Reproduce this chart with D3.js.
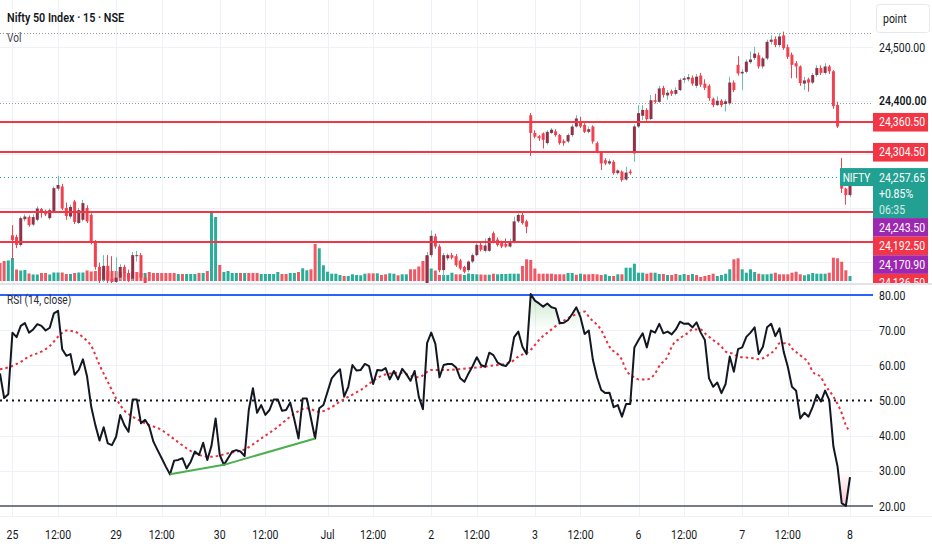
<!DOCTYPE html>
<html>
<head>
<meta charset="utf-8">
<script src="https://cdn.jsdelivr.net/npm/d3@7"></script>
<style>
  html, body { margin: 0; padding: 0; background: #fff; }
  #viz-container { width: 932px; height: 550px; overflow: hidden; }
</style>
</head>
<body>
<div id="viz-container"></div>
<script>
// ---------- data ----------
// time axis: bar index of each label
const timeTickIdx  = [3, 14, 28, 39, 53, 64, 79, 90, 104, 115, 129, 140, 154, 165, 179, 190, 205];
const timeTickText = ["25", "12:00", "29", "12:00", "30", "12:00", "Jul", "12:00", "2", "12:00", "3", "12:00", "6", "12:00", "7", "12:00", "8"];

// candles only where they are visible in the price window (bars 3-35 and 103-205)
const candleRuns = [[3, 35], [103, 205]];
const opens = [
  24149,24146,24131,24179,24183,24169,24178,24198,24192,24181,24193,24236,24240,24200,24184,24212,24172,24178,24200,24187,24137,24090,24066,24092,24068,24062,24070,24090,24078,24068,24110,24112,24070,
  24045,24112,24147,24128,24084,24106,24112,24110,24102,24090,24084,24100,24112,24131,24120,24120,24153,24141,24136,24133,24128,24137,24175,24187,24175,
  24373,24340,24334,24339,24321,24340,24343,24336,24325,24324,24336,24352,24361,24355,24342,24352,24321,24303,24289,24283,24286,24265,24268,24253,24268,
  24302,24352,24372,24383,24366,24401,24398,24424,24410,24418,24413,24420,24439,24440,24443,24428,24447,24432,24428,24404,24392,24400,24394,24395,24434,
  24467,24451,24454,24472,24480,24485,24464,24479,24510,24515,24504,24522,24500,24486,24470,24464,24432,24440,24434,24448,24461,24452,24464,24455,24392,
  24268,24236,24224
];
const highs = [
  24168,24150,24184,24188,24186,24188,24203,24200,24197,24199,24240,24260,24245,24210,24206,24215,24200,24215,24205,24190,24140,24098,24112,24112,24110,24108,24095,24094,24085,24118,24120,24116,24075,
  24118,24158,24152,24132,24116,24115,24116,24114,24105,24092,24102,24115,24134,24135,24143,24147,24156,24145,24139,24143,24143,24184,24190,24192,24178,
  24377,24345,24336,24341,24345,24349,24347,24338,24328,24339,24356,24373,24370,24358,24352,24354,24324,24305,24293,24291,24289,24272,24270,24277,24272,
  24356,24392,24392,24386,24411,24413,24428,24428,24420,24421,24425,24442,24446,24450,24447,24450,24452,24440,24431,24406,24408,24403,24403,24445,24438,
  24483,24459,24477,24492,24501,24490,24482,24514,24522,24520,24526,24529,24505,24490,24474,24466,24445,24443,24452,24466,24466,24470,24467,24457,24398,
  24293,24238,24262
];
const lows = [
  24103,24125,24128,24175,24165,24166,24175,24182,24185,24178,24190,24232,24196,24178,24180,24170,24170,24175,24172,24132,24085,24060,24062,24060,24058,24055,24066,24072,24062,24064,24100,24066,24050,
  24040,24108,24124,24080,24072,24102,24104,24090,24084,24078,24080,24097,24110,24119,24117,24118,24134,24128,24125,24126,24126,24134,24172,24169,24153,
  24297,24330,24325,24311,24318,24338,24333,24318,24316,24321,24333,24350,24349,24340,24339,24320,24302,24271,24280,24280,24262,24262,24249,24251,24262,
  24286,24349,24364,24363,24364,24395,24396,24406,24402,24409,24410,24418,24433,24436,24428,24424,24426,24420,24400,24388,24390,24388,24380,24392,24416,
  24447,24420,24451,24469,24476,24460,24460,24476,24505,24500,24500,24495,24478,24442,24442,24428,24420,24417,24431,24445,24448,24449,24450,24385,24349,
  24228,24206,24220
];
const closes = [
  24140,24131,24181,24184,24168,24183,24199,24191,24188,24196,24237,24243,24199,24185,24202,24174,24196,24209,24175,24137,24090,24066,24092,24065,24062,24070,24090,24078,24068,24112,24112,24070,24058,
  24112,24148,24128,24084,24112,24112,24107,24093,24087,24081,24100,24112,24131,24122,24130,24144,24137,24131,24128,24128,24136,24175,24187,24172,24165,
  24340,24333,24330,24327,24342,24346,24336,24321,24321,24336,24352,24367,24352,24342,24347,24324,24305,24283,24283,24287,24265,24270,24252,24266,24265,
  24352,24377,24383,24366,24401,24398,24423,24411,24415,24413,24420,24439,24442,24444,24432,24445,24430,24424,24405,24392,24400,24392,24399,24434,24420,
  24451,24454,24473,24477,24488,24464,24479,24510,24514,24504,24520,24498,24482,24467,24464,24433,24438,24434,24448,24461,24452,24464,24455,24390,24352,
  24236,24224,24257.65
];

// volume per bar (relative units) and its colour (u = up, d = down)
const volume = [
  18,20,20.5,23,11.5,10.5,11,7.5,6.5,6.5, 8,8,6.5,8.5,8.5,8.5,7,7,8,8.5,
  8.5,10.5,9.5,10,9,12,10,10,10,9, 9,8,9,9,8,8,9,8,8,8,
  8,8,8,7,7,7,7,7,8,8, 10,68,64,16,9,10,8,8,8,8,
  8,8,8,7,7,7,7,9,7,7, 8,8,9,12.7,10.7,11.7,37,32.7,15.7,9.3,
  7.3,7.3,6,5,5,6.7,6,5.7,7.3,7.7, 7.7,7.7,6,6.7,7.7,7.3,5.7,6.7,6.7,11.7,
  11.7,14.5,20,25,12.5,10.5,6,6,6,8.3, 6.7,6.7,6,7.5,7,6.7,6.5,6.3,6.3,7.3,
  6.7,7,7,7.3,7.3,7.3,15,21.7,21,12.5, 7.3,7.3,7.3,7.3,6.7,6.7,6.7,8,8,6.3,
  7.3,6.7,6.7,7,6.7,6,6.7,5,5,6.7, 6.7,13.3,13.3,17.3,8.3,8.3,7.3,8.3,8.3,7,
  7,6,6,7,6,7,6,7,6,4, 5,6,7.3,5,6,7.3,11.7,21.7,22.7,11.7,
  8.3,11.7,9,7.3,6.7,6.7,7.3,8.3,6.7,6.7, 6.7,8.3,9.3,6.7,5.7,6.7,8,7.3,7.3,7.3,
  8.3,23.3,22.7,19.3,10.7,5
];
const volumeDir = ("dduuduuduu dduuuddudu uddddudddd dddddudddd ddduduuudu duuduuuudu ddduuuuudd " +
  "uuduudduuu uuuduuuuud dudduuduud ddddudduuu dduuuuddud uuuuuudddd ddddddduud uddddduudu " +
  "duuuuudduu dudduududd ddduuuuddu uuuduuuddd dddduuuuuu dddddu").replace(/ /g, "").split("");

// RSI (14, close), one value per bar
const rsiValues = [
  57.7,50.7,51.8,69.3,68,71.2,72,69.3,70.2,71.7, 71.2,69.9,70.7,74.8,75.5,64.6,62.7,63.2,57.3,58.7,
  61.7,56.8,48.2,43,38.6,42.4,37.8,37.3,39.7,45.9, 43,41.1,50.3,50.3,43.5,44.5,42.6,38.3,35.9,33.6,
  31.2,29,32.9,33.1,33.6,30.7,32.6,35.5,34.5,38, 33.1,37.1,44.9,34.5,31.7,33.6,35.5,35.9,35.5,34.2,
  47.3,53.5,46.5,48.7,45.9,47.3,50.3,50.3,47.1,47.3, 49.4,44.5,39.2,50.6,50.6,44.9,39.2,47.8,48.7,52.5,
  56.3,57.7,58.9,51.1,53.9,60.1,58.5,58.7,60.4,59.8, 54.7,58.7,58.5,59.2,56,58.4,56,59,57.5,55.6,
  58.4,51.1,47.5,66.3,69.3,66.1,56.6,60.1,60.4,60.4, 59.4,56.3,55.3,57.7,59.8,62.3,60.1,59.6,63.6,62.9,
  60.8,60.1,59.8,61.3,68,69.6,65.3,63.2,80.3,78.4, 77.6,76.7,77.6,76.5,76.2,72,72.1,72.9,74.6,76.5,
  73.7,68.9,69.9,61.5,56.6,53,52.1,52.2,48.1,48.7, 45.4,49,49,65.1,67.2,69.1,65.1,69.9,69.3,71.8,
  69.1,69.6,68.8,70.2,72.4,71.8,71.9,70.8,72.2,69.3, 67.2,56.3,53.9,55.1,52.1,54.7,62.5,58.2,64.6,65.1,
  68.1,69.3,70.8,63.2,65.3,70.8,71.8,68.3,70.5,63.9, 59.6,53.9,52.8,44.9,46.5,45.4,48.2,51.6,49.7,52.8,
  50.1,36.9,31.2,20.8,20,28.2
];

// RSI moving average, read at these bars
const rsiMaIdx = [0,2,5,7,10,12,14,16,18,20, 22,24,26,28,30,32,35,39,42,45, 48,51,55,59,63,67,70,74,77,80,
  82,87,92,96,101,104,108,113,118,123, 125,128,130,133,135,137,140,141,142,145, 147,150,151,153,154,156,158,159,161,162,
  164,166,167,169,170,172,174,175,177,178, 180,182,183,185,187,188,190,191,193,195, 196,198,199,201,203,204,205];
const rsiMaVal = [58.9,59.4,61,62.5,63.9,65.5,68.1,69.9,69.6,68, 65.5,60.1,55.3,50.6,47.1,45.4,43.5,41.6,39,36.4,
  34.5,34,35,36.1,39.2,42.5,45.4,47.8,46.8,48.1, 49.7,53,57,57.9,56.6,58.7,58.7,59.2,59.8,60.8,
  62.5,64.4,67.2,70.2,72,73.4,75,75.3,73.8,70, 65.3,61.5,58.7,56.6,56,56,57.7,59.8,62.5,65.3,
  67.7,69.3,70.2,70.2,69.1,67.2,65.3,63.9,63.2,62.5, 62.2,62,61.7,62.7,64.6,66.3,66.3,64.8,62.9,60.6,
  58.2,56.6,54.4,51.1,46.4,43,41.1];

// bullish divergence drawn on the RSI lows
const divergenceIdx = [41, 54, 76];

// horizontal drawings and price scale markers
const levelValues = [24360.5, 24304.5, 24192.5, 24136.5];
const refDotted = [24527, 24396];
const lastPrice = 24257.65;
const lastChange = "+0.85%";
const countdown = "06:35";
const tagValues = [24360.5, 24304.5, 24257.65, 24243.5, 24192.5, 24170.9, 24136.5];
const tagKind = ["level", "level", "last", "purple", "level", "purple", "level"];
const priceTicks = [24100, 24200, 24300, 24400, 24500];
const rsiTicks = [20, 30, 40, 50, 60, 70, 80];

// ---------- layout ----------
let w = 932, h = 550;
let plotRight = 873;
let mainBottom = 283;
let rsiTop = 285, rsiBottom = 516;

let viz = d3.select("#viz-container").append("svg")
  .attr("width", w).attr("height", h)
  .style("font-family", "Roboto, 'Open Sans', sans-serif");

let defs = viz.append("defs");
defs.append("clipPath").attr("id", "clipMain").append("rect")
  .attr("x", 0).attr("y", 0).attr("width", plotRight).attr("height", mainBottom);
defs.append("clipPath").attr("id", "clipRsi").append("rect")
  .attr("x", 0).attr("y", rsiTop).attr("width", plotRight).attr("height", rsiBottom - rsiTop);
defs.append("clipPath").attr("id", "clipAxis").append("rect")
  .attr("x", plotRight).attr("y", 0).attr("width", w - plotRight).attr("height", mainBottom);

let xScale = d3.scaleLinear().domain([0, rsiValues.length - 1]).range([0, 850]);
let yPrice = d3.scaleLinear().domain([24060, 24588]).range([mainBottom, 0]);
let yVol = d3.scaleLinear().domain([0, d3.max(volume)]).range([281, 213]);
let yRsi = d3.scaleLinear().domain([20, 80]).range([506, 295]);

function crisp(v) { return Math.round(v) + 0.5; }

// condensed-looking text like the screenshot
function txt(g, x, y, s, opt) {
  opt = opt || {};
  return g.append("text")
    .attr("transform", "translate(" + x + "," + y + ") scale(" + (opt.sx || 0.84) + ",1)")
    .attr("text-anchor", opt.anchor || "start")
    .attr("font-size", opt.size || 12)
    .attr("font-weight", opt.weight || 400)
    .attr("fill", opt.fill || "#131722")
    .attr("opacity", opt.opacity || 1)
    .text(s);
}

// ---------- grid ----------
let grid = viz.append("g").attr("stroke", "#eef1f6").attr("stroke-width", 1);
timeTickIdx.forEach(function (i) {
  let gx = crisp(xScale(i));
  grid.append("line").attr("x1", gx).attr("x2", gx).attr("y1", 0).attr("y2", mainBottom);
  grid.append("line").attr("x1", gx).attr("x2", gx).attr("y1", rsiTop).attr("y2", rsiBottom);
});
priceTicks.forEach(function (v) {
  grid.append("line").attr("x1", 0).attr("x2", plotRight)
    .attr("y1", crisp(yPrice(v))).attr("y2", crisp(yPrice(v)));
});
[30, 40, 60, 70].forEach(function (v) {
  grid.append("line").attr("x1", 0).attr("x2", plotRight)
    .attr("y1", crisp(yRsi(v))).attr("y2", crisp(yRsi(v)));
});

// ---------- main pane ----------
let main = viz.append("g").attr("clip-path", "url(#clipMain)");

refDotted.forEach(function (v) {
  main.append("line").attr("x1", 0).attr("x2", plotRight)
    .attr("y1", crisp(yPrice(v))).attr("y2", crisp(yPrice(v)))
    .attr("stroke", "#9598a1").attr("stroke-width", 1).attr("stroke-dasharray", "1,2");
});

main.selectAll(".vol").data(volume).enter().append("rect")
  .attr("class", "vol")
  .attr("x", (d, i) => xScale(i) - 1.5)
  .attr("width", 3)
  .attr("y", d => yVol(d))
  .attr("height", d => yVol(0) - yVol(d))
  .attr("fill", (d, i) => volumeDir[i] === "u" ? "#2aad99" : "#f05864");

let candleIdx = candleRuns.flatMap(r => d3.range(r[0], r[1] + 1));
let candles = candleIdx.map((idx, k) => ({ i: idx, o: opens[k], h: highs[k], l: lows[k], c: closes[k] }));
let upBody = "#8f3249", upWick = "#6cc2ae", dnColor = "#f0424f";

let cg = main.selectAll(".candle").data(candles).enter().append("g").attr("class", "candle");
cg.append("line")
  .attr("x1", d => crisp(xScale(d.i) - 0.5)).attr("x2", d => crisp(xScale(d.i) - 0.5))
  .attr("y1", d => yPrice(d.h)).attr("y2", d => yPrice(d.l))
  .attr("stroke", d => d.c >= d.o ? upWick : dnColor).attr("stroke-width", 1);
cg.append("rect")
  .attr("x", d => xScale(d.i) - 1.5).attr("width", 3)
  .attr("y", d => yPrice(Math.max(d.o, d.c)))
  .attr("height", d => Math.max(1, Math.abs(yPrice(d.o) - yPrice(d.c))))
  .attr("fill", d => d.c >= d.o ? upBody : dnColor);

levelValues.forEach(function (v) {
  main.append("line").attr("x1", 0).attr("x2", plotRight)
    .attr("y1", yPrice(v)).attr("y2", yPrice(v))
    .attr("stroke", "#f23645").attr("stroke-width", 2);
});

main.append("line").attr("x1", 0).attr("x2", plotRight - 33)
  .attr("y1", crisp(yPrice(lastPrice))).attr("y2", crisp(yPrice(lastPrice)))
  .attr("stroke", "#22a193").attr("stroke-width", 1).attr("stroke-dasharray", "1,3");

// symbol tag at the last price
main.append("rect").attr("x", plotRight - 33).attr("y", yPrice(lastPrice) - 9)
  .attr("width", 33).attr("height", 18).attr("fill", "#22a193");
txt(main, plotRight - 16.5, yPrice(lastPrice) + 4.5, "NIFTY", { anchor: "middle", size: 12, fill: "#fff" });

// ---------- price scale ----------
let axisG = viz.append("g").attr("clip-path", "url(#clipAxis)");
let tags = tagValues.map((v, k) => ({ v: v, kind: tagKind[k] })).sort((a, b) => b.v - a.v);
let prevBottom = -Infinity;
tags.forEach(function (t) {
  t.h = t.kind === "last" ? 50 : 18.6;
  t.top = Math.max(yPrice(t.v) - 9, prevBottom);
  prevBottom = t.top + t.h;
});

priceTicks.filter(v => !tags.some(t => yPrice(v) > t.top - 6 && yPrice(v) < t.top + t.h + 6))
  .forEach(function (v) {
    txt(axisG, 879, yPrice(v) + 4.5, d3.format(",.2f")(v), { size: 12.5, weight: v === 24400 ? 600 : 400 });
  });

let tagColor = { level: "#f23645", purple: "#9c27b0", last: "#22a193" };
tags.forEach(function (t) {
  axisG.append("rect").attr("x", plotRight).attr("y", t.top).attr("width", 55).attr("height", t.h)
    .attr("fill", tagColor[t.kind]);
  txt(axisG, 879, t.top + 13.5, d3.format(",.2f")(t.v), { size: 12.5, fill: "#fff" });
  if (t.kind === "last") {
    txt(axisG, 879, t.top + 29.5, lastChange, { size: 12.5, fill: "#fff" });
    txt(axisG, 879, t.top + 45.5, countdown, { size: 12.5, fill: "#fff", opacity: 0.8 });
  }
});

// "point" button
viz.append("rect").attr("x", 876.5).attr("y", 4.5).attr("width", 53).attr("height", 28).attr("rx", 3)
  .attr("fill", "#fff").attr("stroke", "#e6e8ee");
txt(viz, 883, 22.5, "point", { size: 12.5 });

// pane separators
viz.append("line").attr("x1", 0).attr("x2", w).attr("y1", 284).attr("y2", 284)
  .attr("stroke", "#e0e3eb").attr("stroke-width", 2);
viz.append("line").attr("x1", 0).attr("x2", w).attr("y1", crisp(rsiBottom)).attr("y2", crisp(rsiBottom))
  .attr("stroke", "#eef0f3").attr("stroke-width", 1);

// ---------- RSI pane ----------
let rsiG = viz.append("g").attr("clip-path", "url(#clipRsi)");

let gUp = defs.append("linearGradient").attr("id", "obFill").attr("gradientUnits", "userSpaceOnUse")
  .attr("x1", 0).attr("x2", 0).attr("y1", yRsi(80)).attr("y2", yRsi(70));
gUp.append("stop").attr("offset", 0).attr("stop-color", "#4caf50").attr("stop-opacity", 0.28);
gUp.append("stop").attr("offset", 1).attr("stop-color", "#4caf50").attr("stop-opacity", 0);
let gDn = defs.append("linearGradient").attr("id", "osFill").attr("gradientUnits", "userSpaceOnUse")
  .attr("x1", 0).attr("x2", 0).attr("y1", yRsi(30)).attr("y2", yRsi(20));
gDn.append("stop").attr("offset", 0).attr("stop-color", "#f23645").attr("stop-opacity", 0);
gDn.append("stop").attr("offset", 1).attr("stop-color", "#f23645").attr("stop-opacity", 0.28);

rsiG.append("path").datum(rsiValues)
  .attr("d", d3.area().x((d, i) => xScale(i)).y0(yRsi(70)).y1(d => yRsi(Math.max(d, 70))))
  .attr("fill", "url(#obFill)");
rsiG.append("path").datum(rsiValues)
  .attr("d", d3.area().x((d, i) => xScale(i)).y0(yRsi(30)).y1(d => yRsi(Math.min(d, 30))))
  .attr("fill", "url(#osFill)");

rsiG.append("line").attr("x1", 0).attr("x2", plotRight).attr("y1", yRsi(80)).attr("y2", yRsi(80))
  .attr("stroke", "#2962ff").attr("stroke-width", 2);
rsiG.append("line").attr("x1", 0).attr("x2", plotRight).attr("y1", yRsi(50)).attr("y2", yRsi(50))
  .attr("stroke", "#131722").attr("stroke-width", 2).attr("stroke-dasharray", "2,4");
rsiG.append("line").attr("x1", 0).attr("x2", plotRight).attr("y1", yRsi(20)).attr("y2", yRsi(20))
  .attr("stroke", "#787b86").attr("stroke-width", 2);

let maPts = rsiMaIdx.map((i, k) => [i, rsiMaVal[k]]);
rsiG.append("path").datum(maPts)
  .attr("d", d3.line().x(d => xScale(d[0])).y(d => yRsi(d[1])).curve(d3.curveMonotoneX))
  .attr("fill", "none").attr("stroke", "#e8303f").attr("stroke-width", 2).attr("stroke-dasharray", "2.5,3");

rsiG.append("path").datum(rsiValues)
  .attr("d", d3.line().x((d, i) => xScale(i)).y(d => yRsi(d)))
  .attr("fill", "none").attr("stroke", "#131722").attr("stroke-width", 2).attr("stroke-linejoin", "round");

rsiG.append("path").datum(divergenceIdx)
  .attr("d", d3.line().x(i => xScale(i)).y(i => yRsi(rsiValues[i])))
  .attr("fill", "none").attr("stroke", "#4caf50").attr("stroke-width", 2);

txt(viz, 7, 304, "RSI (14, close)", { size: 12, fill: "#2a2e39" });

rsiTicks.forEach(function (v) {
  txt(viz, 879, yRsi(v) + 4.5, d3.format(".2f")(v), { size: 12.5 });
});

// ---------- time axis ----------
timeTickIdx.forEach(function (i, k) {
  txt(viz, xScale(i), 539, timeTickText[k], { anchor: "middle", size: 12.5 });
});

// ---------- header ----------
txt(viz, 7, 22, "Nifty 50 Index · 15 · NSE", { size: 13.5, weight: 600, sx: 0.8 });
txt(viz, 7, 42, "Vol", { size: 12, fill: "#434651" });
</script>
</body>
</html>
